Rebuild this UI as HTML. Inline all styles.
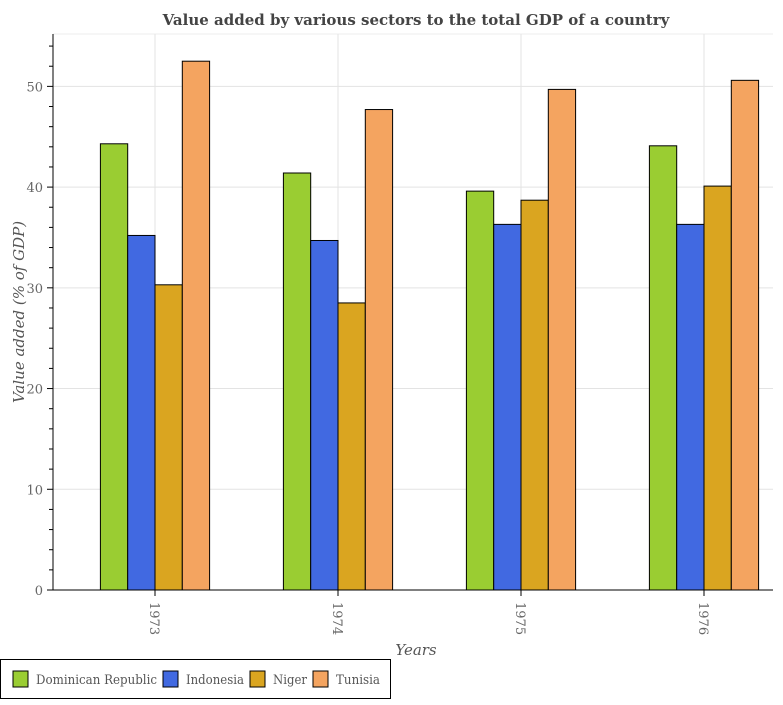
<!DOCTYPE html>
<html><head><style>
body{margin:0;background:#fff;}
svg text{font-family:"DejaVu Serif","Liberation Serif",serif;}
</style></head><body>
<svg width="783" height="700">
<text x="416" y="25" text-anchor="middle" font-size="15" font-weight="bold" fill="#444">Value added by various sectors to the total GDP of a country</text>
<g id="grid"></g><g id="bars"></g><g id="axes"></g>
<text transform="translate(24,312) rotate(-90)" text-anchor="middle" font-size="15" font-style="italic" fill="#555">Value added (% of GDP)</text>
<text x="416" y="655" text-anchor="middle" font-size="15" font-style="italic" fill="#555">Years</text>
<g>
<rect x="0.5" y="659.5" width="390" height="39" fill="#fff" stroke="#000"/>
<g id="legend"></g></g>
</svg>
<script>
const years=["1973","1974","1975","1976"];
const seriesNames=["Dominican Republic","Indonesia","Niger","Tunisia"];
const dominican=[44.3,41.4,39.6,44.1];
const indonesia=[35.2,34.7,36.3,36.3];
const niger=[30.3,28.5,38.7,40.1];
const tunisia=[52.5,47.7,49.7,50.6];
const yTicks=[0,10,20,30,40,50];
const colors=["#9acd32","#4169e1","#daa520","#f4a460"];
const ns="http://www.w3.org/2000/svg";
const L=53,R=773,T=34,B=590;
const y=v=>B-v*(B-T)/55.2;
const x=i=>155+i*183;
const bw=27.3;
function mk(tag,a,p){const e=document.createElementNS(ns,tag);for(const k in a)e.setAttribute(k,a[k]);p.appendChild(e);return e;}
const grid=document.getElementById('grid'),bars=document.getElementById('bars'),axes=document.getElementById('axes'),leg=document.getElementById('legend');
yTicks.forEach(t=>{const l=mk('line',{x1:L,x2:R,y1:y(t),y2:y(t),stroke:'#e3e3e3'},grid);


const tx=mk('text',{x:L-10,y:y(t)+5,'text-anchor':'end','font-size':13,fill:'#666'},axes);tx.textContent=t;


mk('line',{x1:L-6,x2:L,y1:y(t),y2:y(t),stroke:'#000'},axes);});
for(let v=2;v<55;v+=2){if(v%10)mk('line',{x1:L-4,x2:L,y1:y(v),y2:y(v),stroke:'#000'},axes);}
mk('line',{x1:L,x2:L,y1:T,y2:B,stroke:'#000'},axes);
mk('line',{x1:L,x2:R,y1:B,y2:B,stroke:'#000'},axes);
mk('line',{x1:L,x2:R,y1:T,y2:T,stroke:'#eee'},grid);
const data=[dominican,indonesia,niger,tunisia];
years.forEach((yr,i)=>{
const g=mk('line',{x1:x(i),x2:x(i),y1:T,y2:B,stroke:'#e3e3e3'},grid);


data.forEach((s,j)=>{const r=mk('rect',{x:x(i)-2*bw+j*bw,y:y(s[i]),width:bw,height:B-y(s[i]),fill:colors[j],stroke:'#000','stroke-width':1},bars);

});
mk('line',{x1:x(i),x2:x(i),y1:B,y2:B+6,stroke:'#000'},axes);
const t=mk('text',{transform:`translate(${x(i)-5},602) rotate(90)`,'font-size':13,fill:'#666'},axes);t.textContent=yr;


});
const lx=[13,163,250,313];
const lw=[121,58,34,44];
seriesNames.forEach((n,j)=>{
const g=mk('g',{},leg);


mk('rect',{x:lx[j],y:671,width:15,height:16,fill:colors[j],stroke:'#000'},g);
const t=mk('text',{x:lx[j]+23,y:684,'font-size':13,fill:'#555',textLength:lw[j],lengthAdjust:'spacingAndGlyphs'},g);t.textContent=n;});
</script>
</body></html>
